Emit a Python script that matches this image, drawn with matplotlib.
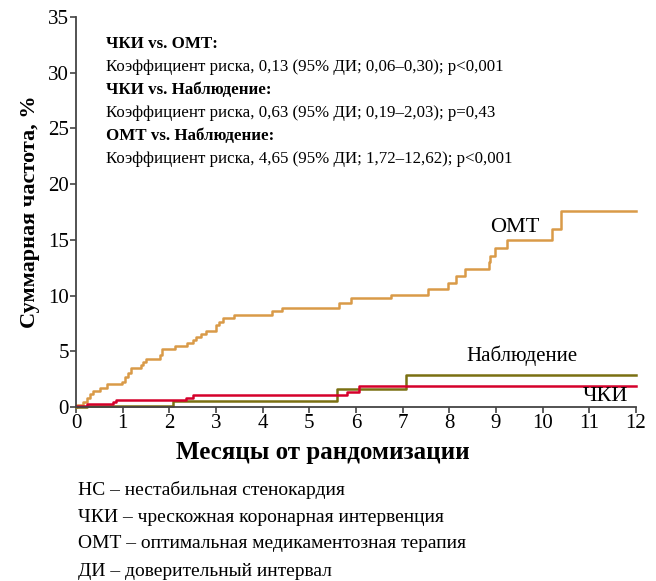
import numpy as np
import matplotlib
matplotlib.use('Agg')
import matplotlib.pyplot as plt

plt.rcParams['font.family'] = ['Liberation Serif', 'DejaVu Serif']

# data: step curves (months, cumulative %)
omt_t = [0, 0.03, 0.14, 0.23, 0.29, 0.37, 0.51, 0.67, 0.99, 1.05, 1.12, 1.18, 1.39, 1.44, 1.51,
         1.80, 1.84, 2.12, 2.37, 2.51, 2.57, 2.67, 2.78, 3.01, 3.06, 3.14, 3.39, 4.21, 4.41, 5.63,
         5.89, 6.76, 7.54, 7.98, 8.14, 8.33, 8.84, 8.87, 8.98, 9.23, 10.19, 10.39, 12]
omt_y = [0, 0.2, 0.48, 0.84, 1.14, 1.43, 1.68, 2.04, 2.27, 2.66, 3.02, 3.47, 3.77, 4.01, 4.28,
         4.67, 5.2, 5.48, 5.72, 6.01, 6.31, 6.55, 6.85, 7.36, 7.66, 8.02, 8.29, 8.59, 8.91, 9.31,
         9.76, 10.05, 10.59, 11.16, 11.76, 12.36, 13.04, 13.55, 14.25, 14.99, 15.95, 17.62, 17.62]

pci_t = [0, 0.23, 0.8, 0.86, 2.36, 2.51, 5.8, 6.07, 12]
pci_y = [0.1, 0.27, 0.48, 0.63, 0.78, 1.1, 1.35, 1.91, 1.91]

obs_t = [0, 0.23, 2.07, 5.6, 7.07, 12]
obs_y = [0, 0.1, 0.57, 1.61, 2.87, 2.87]

x_ticks = list(range(0, 13))
y_ticks = list(range(0, 36, 5))

stats = [
    ("ЧКИ vs. ОМТ:", True),
    ("Коэффициент риска, 0,13 (95% ДИ; 0,06–0,30); p<0,001", False),
    ("ЧКИ vs. Наблюдение:", True),
    ("Коэффициент риска, 0,63 (95% ДИ; 0,19–2,03); p=0,43", False),
    ("ОМТ vs. Наблюдение:", True),
    ("Коэффициент риска, 4,65 (95% ДИ; 1,72–12,62); p<0,001", False),
]

notes = [
    "НС – нестабильная стенокардия",
    "ЧКИ – чрескожная коронарная интервенция",
    "ОМТ – оптимальная медикаментозная терапия",
    "ДИ – доверительный интервал",
]

c_omt = '#d99a48'
c_pci = '#d5002b'
c_obs = '#7a7012'

fig = plt.figure(figsize=(6.56, 5.81), dpi=100)
ax = fig.add_axes([76/656, 1 - 407/581, 560/656, 390/581])

ax.step(omt_t, omt_y, where='post', color=c_omt, lw=1.8, clip_on=False)
ax.step(obs_t, obs_y, where='post', color=c_obs, lw=1.8, clip_on=False)
ax.step(pci_t, pci_y, where='post', color=c_pci, lw=1.8, clip_on=False)

ax.set_xlim(0, 12)
ax.set_ylim(0, 35)
ax.set_xticks(x_ticks)
ax.set_yticks(y_ticks)
ax.tick_params(axis='both', direction='out', length=4, width=1.2, colors='#444444',
               labelcolor='black', labelsize=15, pad=1)
for s in ['top', 'right']:
    ax.spines[s].set_visible(False)
for s in ['left', 'bottom']:
    ax.spines[s].set_color('#444444')
    ax.spines[s].set_linewidth(1.3)

ax.set_xlabel("Месяцы от рандомизации", fontsize=18, fontweight='bold')
ax.xaxis.set_label_coords(0.44, -0.088)
ax.set_ylabel("Суммарная частота, %", fontsize=16, fontweight='bold', labelpad=6)

ax.text(9.4, 15.3, "ОМТ", fontsize=16, ha='center', va='bottom')
ax.text(9.55, 3.7, "Наблюдение", fontsize=15, ha='center', va='bottom')
ax.text(11.35, 0.05, "ЧКИ", fontsize=16, ha='center', va='bottom')

y0 = 44
for i, (txt, bold) in enumerate(stats):
    fig.text(106/656, 1 - (y0 + i * 23) / 581, txt, fontsize=12.2,
             fontweight='bold' if bold else 'normal', ha='left', va='center')

for i, txt in enumerate(notes):
    fig.text(78/656, 1 - (490 + i * 27) / 581, txt, fontsize=14, ha='left', va='center')

fig.savefig('out.png', dpi=100)
